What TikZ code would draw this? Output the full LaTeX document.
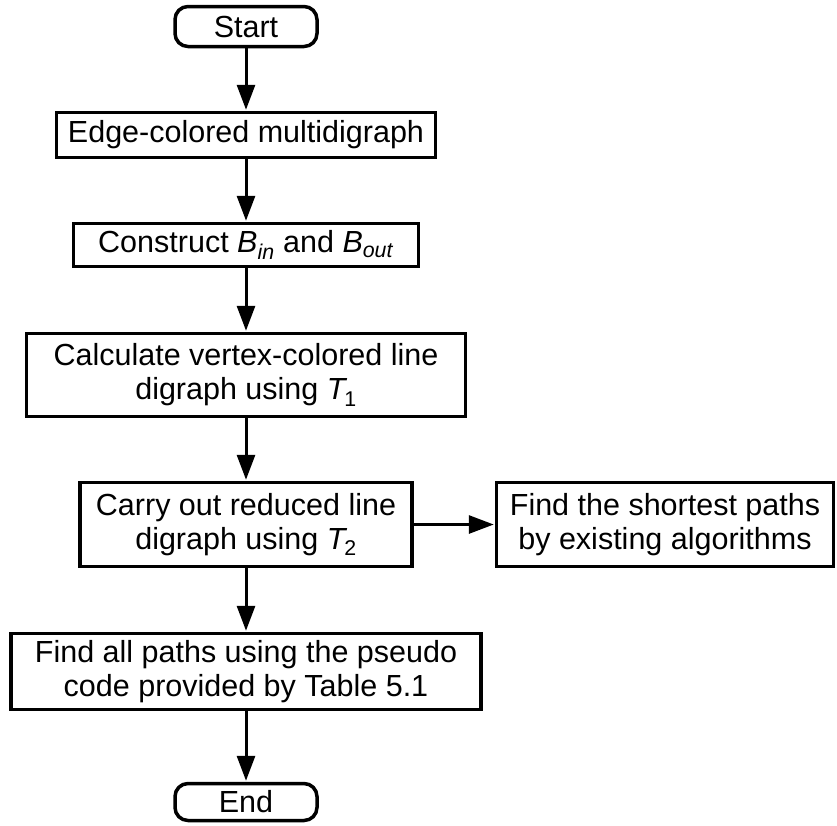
\documentclass[tikz,border=0pt]{standalone}
\usepackage{fontspec}
\setmainfont{Liberation Sans}
\usetikzlibrary{arrows.meta}
\newcommand{\sub}[1]{\textsubscript{#1}}
\begin{document}
\begin{tikzpicture}[x=1pt,y=-1pt,
  box/.style={draw, line width=3.5pt, fill=white, inner sep=0pt, align=center,
    font=\fontsize{30.5}{34}\selectfont},
  term/.style={box, rounded corners=13pt},
  flow/.style={line width=3pt, -{Triangle[length=25pt,width=18pt]}, shorten >=1pt}]
\useasboundingbox[fill=white] (0,0) rectangle (837,825);

\node[term, minimum width=142pt, minimum height=40pt] (start) at (246,26.5) {Start};
\node[box, minimum width=379pt, minimum height=45pt] (edge) at (246,135) {Edge-colored multidigraph};
\node[box, minimum width=345pt, minimum height=43pt] (cons) at (246,245) {Construct \textit{B}\sub{\textit{in}} and \textit{B}\sub{\textit{out}}};
\node[box, minimum width=439pt, minimum height=83pt] (calc) at (246,375) {Calculate vertex-colored line\\digraph using \textit{T}\kern-3pt\sub{1}};
\node[box, minimum width=332pt, minimum height=84pt] (carry) at (246,524.5) {Carry out reduced line\\digraph using \textit{T}\kern-3pt\sub{2}};
\node[box, minimum width=337pt, minimum height=84pt] (short) at (665,524.5) {Find the shortest paths\\by existing algorithms};
\node[box, minimum width=470pt, minimum height=76pt] (all) at (246,671.5) {Find all paths using the pseudo\\code provided by Table 5.1};
\node[term, minimum width=142pt, minimum height=37pt] (end) at (246,802) {End};

\draw[flow] (start) -- (edge);
\draw[flow] (edge) -- (cons);
\draw[flow] (cons) -- (calc);
\draw[flow] (calc) -- (carry);
\draw[flow] (carry) -- (short);
\draw[flow] (carry) -- (all);
\draw[flow] (all) -- (end);
\end{tikzpicture}
\end{document}
